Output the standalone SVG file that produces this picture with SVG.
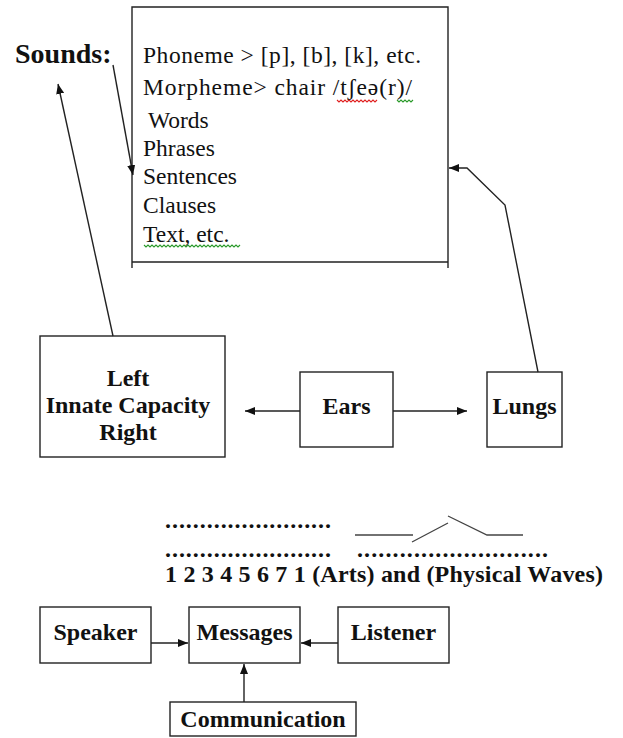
<svg xmlns="http://www.w3.org/2000/svg" width="623" height="738" viewBox="0 0 623 738">
<defs>
<marker id="ah" viewBox="0 0 10 8" refX="10" refY="4" markerWidth="10" markerHeight="8" markerUnits="userSpaceOnUse" orient="auto">
<path d="M0,0 L10,4 L0,8 Z" fill="#111"/>
</marker>
<style>
.box{fill:#fff;stroke:#222;stroke-width:1.4}
.ln{fill:none;stroke:#222;stroke-width:1.4}
.cn{fill:none;stroke:#222;stroke-width:1.4;marker-end:url(#ah)}
.gr{fill:none;stroke:#444;stroke-width:1.3}
.t{font-family:"Liberation Serif","Times New Roman",serif;font-size:23.5px;fill:#111}
.b{font-family:"Liberation Serif","Times New Roman",serif;font-size:24px;font-weight:bold;fill:#111}
.m{text-anchor:middle}
.red{fill:none;stroke:#e02020;stroke-width:1.1}
.grn{fill:none;stroke:#2a9a2a;stroke-width:1.1}
</style>
</defs>
<rect width="623" height="738" fill="#fff"/>

<g id="sounds">
<text class="b" x="15" y="63" style="font-size:28px">Sounds:</text>
</g>

<g id="units">
<path class="ln" d="M132,268 V7 H448 V268 M132,262 H448"/>
<text class="t" x="143" y="63" textLength="278" lengthAdjust="spacing">Phoneme &gt; [p], [b], [k], etc.</text>
<text class="t" x="143" y="95" textLength="269" lengthAdjust="spacing">Morpheme&gt;  chair /tʃeə(r)/</text>
<text class="t" x="148" y="128">Words</text>
<text class="t" x="143" y="156">Phrases</text>
<text class="t" x="143" y="184">Sentences</text>
<text class="t" x="143" y="213">Clauses</text>
<text class="t" x="143" y="242">Text, etc.</text>
<path class="red" d="M337,100 l2,2 2,-2 2,2 2,-2 2,2 2,-2 2,2 2,-2 2,2 2,-2 2,2 2,-2 2,2 2,-2 2,2 2,-2 2,2 2,-2 2,2 2,-2"/>
<path class="grn" d="M397,100 l2,2 2,-2 2,2 2,-2 2,2 2,-2 2,2 2,-2"/>
<path class="grn" d="M144,245 l2,2 2,-2 2,2 2,-2 2,2 2,-2 2,2 2,-2 2,2 2,-2 2,2 2,-2 2,2 2,-2 2,2 2,-2 2,2 2,-2 2,2 2,-2 2,2 2,-2 2,2 2,-2 2,2 2,-2 2,2 2,-2 2,2 2,-2 2,2 2,-2 2,2 2,-2 2,2 2,-2 2,2 2,-2 2,2 2,-2 2,2 2,-2 2,2 2,-2 2,2 2,-2 2,2 2,-2"/>
</g>

<g id="innate">
<rect class="box" x="40" y="336" width="185" height="121"/>
<text class="b m" x="128" y="386">Left</text>
<text class="b m" x="128" y="413">Innate Capacity</text>
<text class="b m" x="128" y="440">Right</text>
</g>

<g id="ears">
<rect class="box" x="300" y="372" width="93" height="75"/>
<text class="b m" x="346.5" y="414">Ears</text>
</g>

<g id="lungs">
<rect class="box" x="487" y="372" width="75" height="75"/>
<text class="b m" x="524.5" y="414">Lungs</text>
</g>

<g id="scale">
<text class="b" x="165" y="528" textLength="166" lengthAdjust="spacing">........................</text>
<text class="b" x="165" y="557" textLength="166" lengthAdjust="spacing">........................</text>
<text class="b" x="357" y="557" textLength="191" lengthAdjust="spacing">...........................</text>
<path class="gr" d="M355,535 H413 M412,542 L448,523 M448,516 L487,535 H523"/>
<text class="b" x="165" y="582" textLength="438" lengthAdjust="spacing">1 2 3 4 5 6 7 1 (Arts) and (Physical Waves)</text>
</g>

<g id="speaker">
<rect class="box" x="40" y="607" width="111" height="56"/>
<text class="b m" x="95.5" y="640">Speaker</text>
</g>

<g id="messages">
<rect class="box" x="189" y="607" width="111" height="56"/>
<text class="b m" x="244.5" y="640">Messages</text>
</g>

<g id="listener">
<rect class="box" x="338" y="607" width="111" height="56"/>
<text class="b m" x="393.5" y="640">Listener</text>
</g>

<g id="communication">
<rect class="box" x="170" y="702" width="186" height="34"/>
<text class="b m" x="263" y="727">Communication</text>
</g>

<g id="connectors">
<line class="cn" x1="113" y1="65" x2="133" y2="175"/>
<line class="cn" x1="113" y1="336" x2="58" y2="84"/>
<polyline class="cn" points="538,372 505,205 467,168 449,168"/>
<line class="cn" x1="300" y1="411" x2="245" y2="411"/>
<line class="cn" x1="393" y1="411" x2="467" y2="411"/>
<line class="cn" x1="151" y1="643" x2="188" y2="643"/>
<line class="cn" x1="338" y1="643" x2="301" y2="643"/>
<line class="cn" x1="244" y1="702" x2="244" y2="664"/>
</g>
</svg>
